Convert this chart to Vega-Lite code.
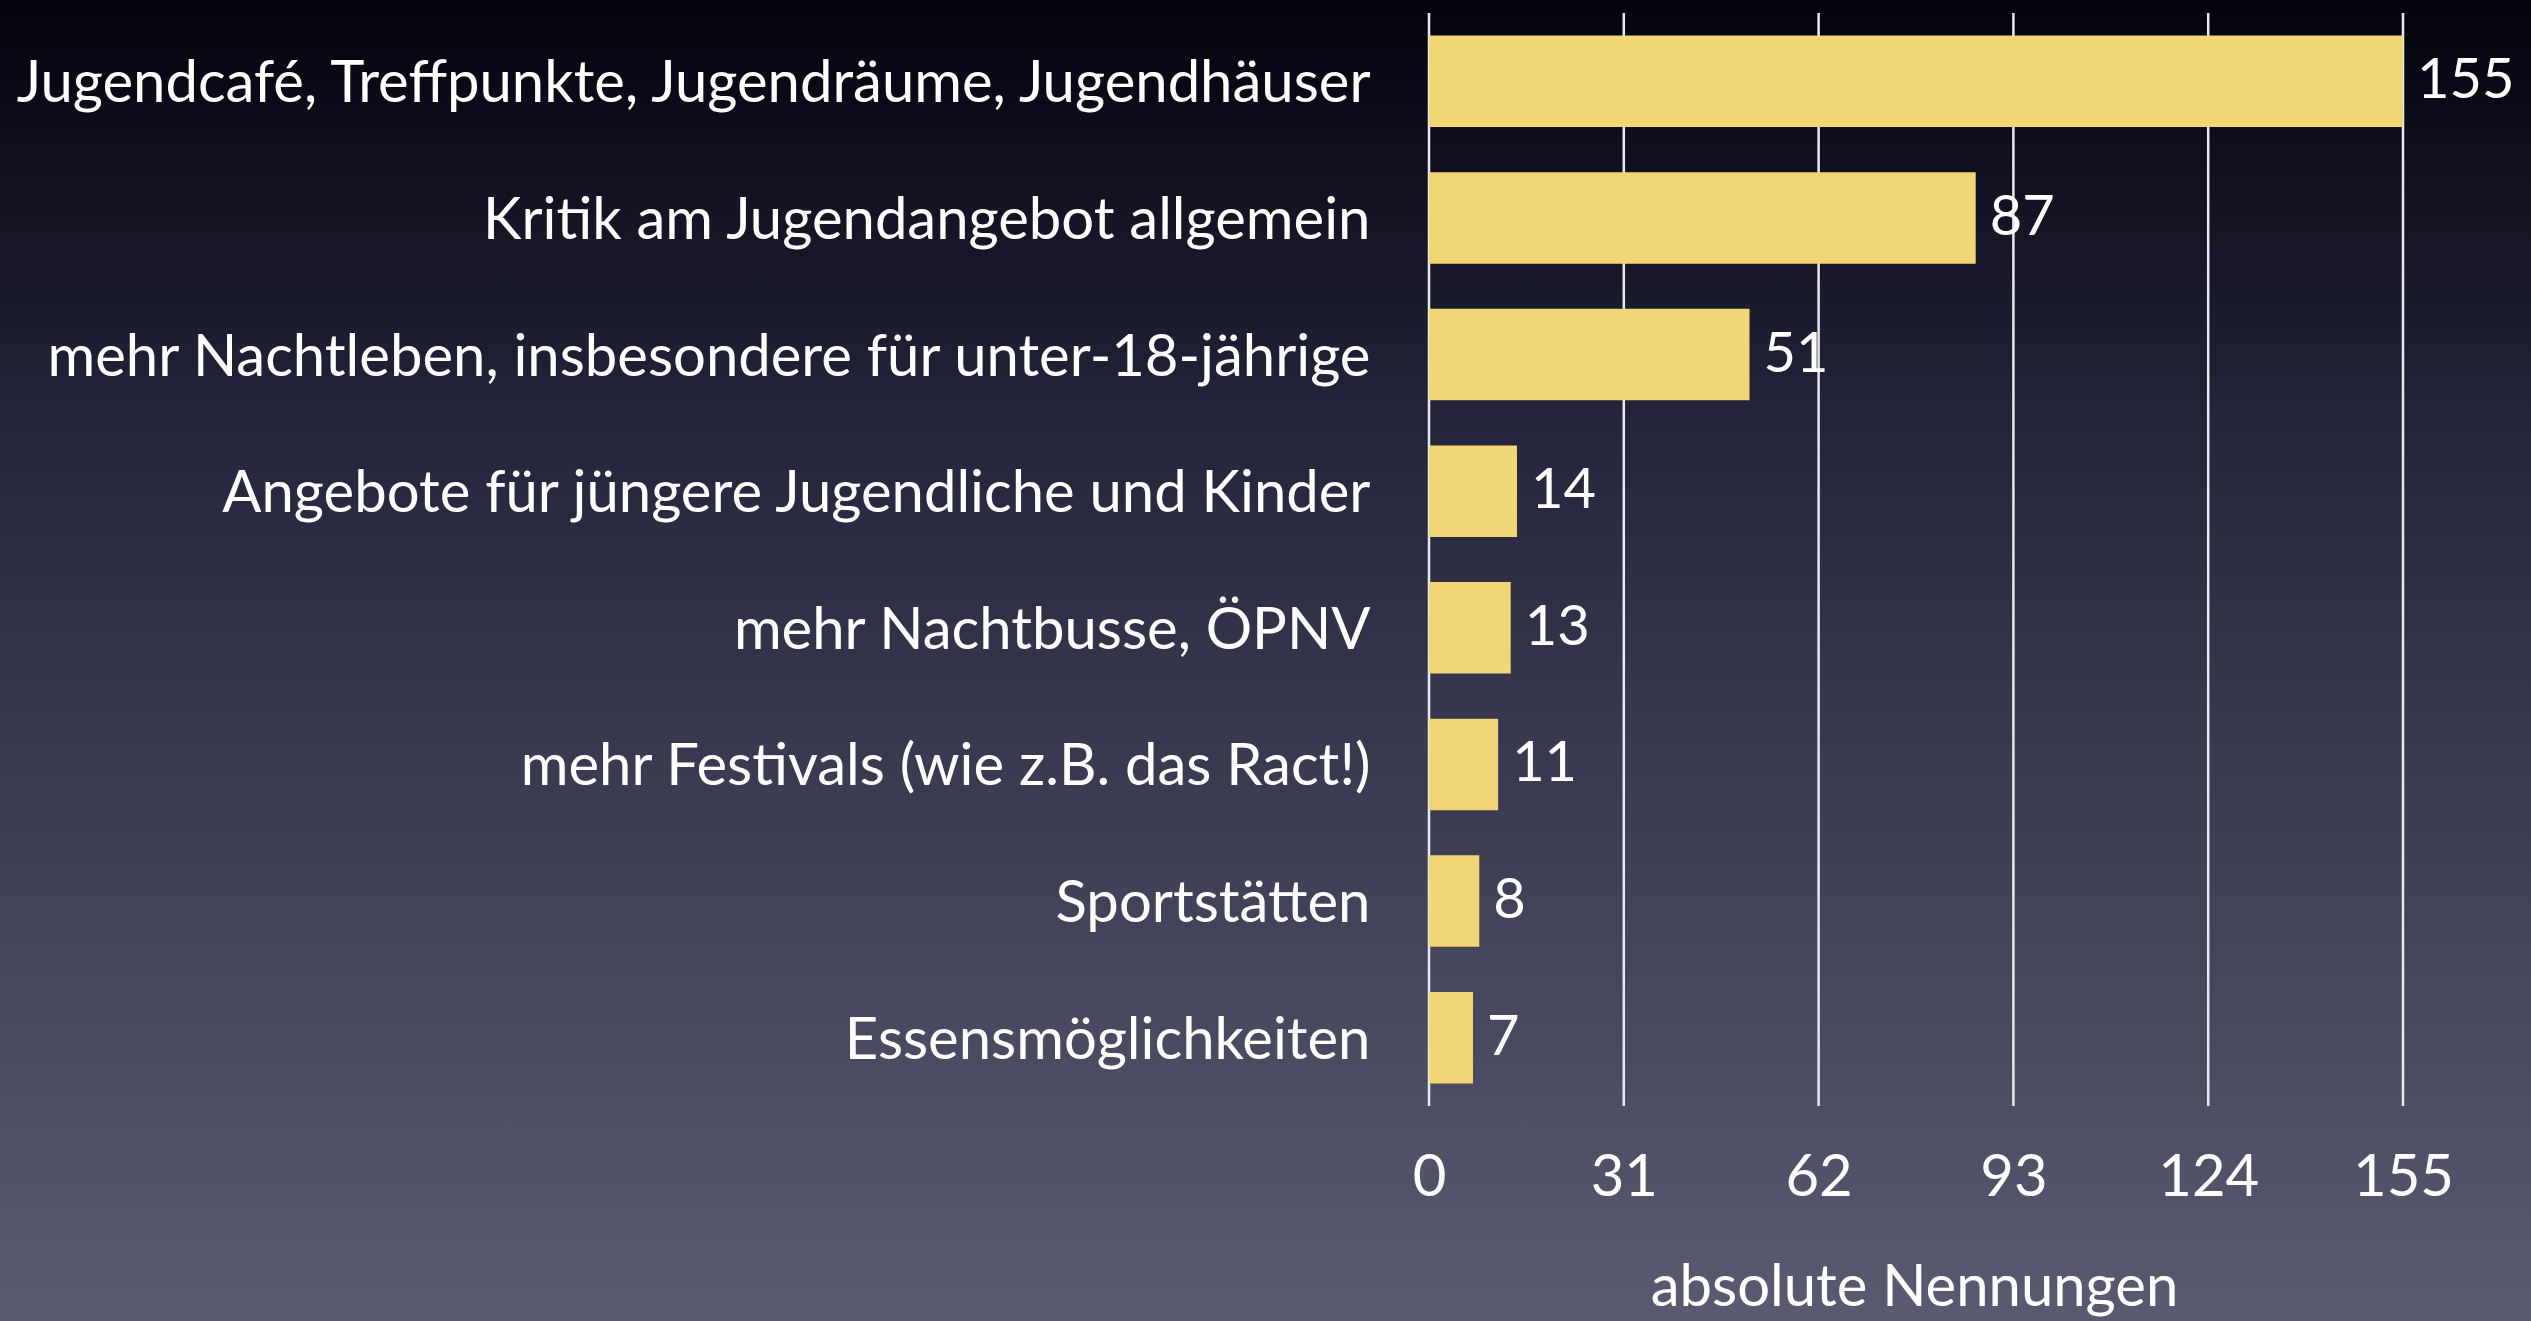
{
  "$schema": "https://vega.github.io/schema/vega-lite/v6.json",
  "width": 2531,
  "height": 1321,
  "autosize": {"type": "none"},
  "padding": 0,
  "background": "#03030d",
  "config": {
    "view": {
      "stroke": null,
      "fill": {
        "gradient": "linear",
        "x1": 0, "y1": 0, "x2": 0, "y2": 1,
        "stops": [
          {"offset": 0, "color": "#03030d"},
          {"offset": 0.3, "color": "#222238"},
          {"offset": 0.53, "color": "#36364d"},
          {"offset": 0.76, "color": "#47475e"},
          {"offset": 1, "color": "#5a5b70"}
        ]
      }
    },
    "font": "Lato"
  },
  "datasets": {
    "bars": [
      {"label": "Jugendcafé, Treffpunkte, Jugendräume,  Jugendhäuser", "value": 155},
      {"label": "Kritik am Jugendangebot allgemein", "value": 87},
      {"label": "mehr Nachtleben, insbesondere für unter-18-jährige", "value": 51},
      {"label": "Angebote für jüngere Jugendliche und Kinder", "value": 14},
      {"label": "mehr Nachtbusse, ÖPNV", "value": 13},
      {"label": "mehr Festivals (wie z.B. das Ract!)", "value": 11},
      {"label": "Sportstätten", "value": 8},
      {"label": "Essensmöglichkeiten", "value": 7}
    ],
    "ticks": [
      {"value": 0}, {"value": 31}, {"value": 62}, {"value": 93}, {"value": 124}, {"value": 155}
    ]
  },
  "encoding": {
    "x": {
      "field": "value",
      "type": "quantitative",
      "scale": {"domain": [-227.41, 175.37], "nice": false, "zero": false},
      "axis": {
        "orient": "bottom",
        "offset": -215,
        "values": [0, 31, 62, 93, 124, 155],
        "domain": false,
        "ticks": false,
        "tickSize": 0,
        "grid": false,
        "labelFontSize": 58,
        "labelColor": "#ffffff",
        "labelPadding": 43,
        "labelFlush": false,
        "title": "absolute Nennungen",
        "titleFontSize": 58,
        "titleFontWeight": "normal",
        "titleColor": "#ffffff",
        "titleX": 1914,
        "titlePadding": 52
      }
    }
  },
  "layer": [
    {
      "data": {"name": "ticks"},
      "mark": {"type": "rule", "color": "#e8e8ee", "strokeWidth": 2.5},
      "encoding": {
        "y": {"datum": 0, "type": "quantitative", "scale": {"domain": [0, 1], "range": [13, 1106]}, "axis": null},
        "y2": {"datum": 1}
      }
    },
    {
      "data": {"name": "bars"},
      "encoding": {
        "y": {
          "field": "label",
          "type": "nominal",
          "sort": null,
          "scale": {"range": [13, 1106], "paddingInner": 0.33, "paddingOuter": 0.165},
          "axis": {
            "orient": "left",
            "offset": -1429,
            "domain": false,
            "ticks": false,
            "tickSize": 0,
            "grid": false,
            "labelFontSize": 58,
            "labelColor": "#ffffff",
            "labelPadding": 59,
            "labelLimit": 2000,
            "labelOffset": 4,
            "title": null
          }
        }
      },
      "layer": [
        {"mark": {"type": "bar", "color": "#f2d574"}},
        {
          "mark": {"type": "text", "align": "left", "baseline": "middle", "dx": 14, "fontSize": 56, "color": "#ffffff"},
          "encoding": {"text": {"field": "value", "type": "quantitative"}}
        }
      ]
    }
  ],
  "resolve": {"scale": {"y": "independent"}}
}
